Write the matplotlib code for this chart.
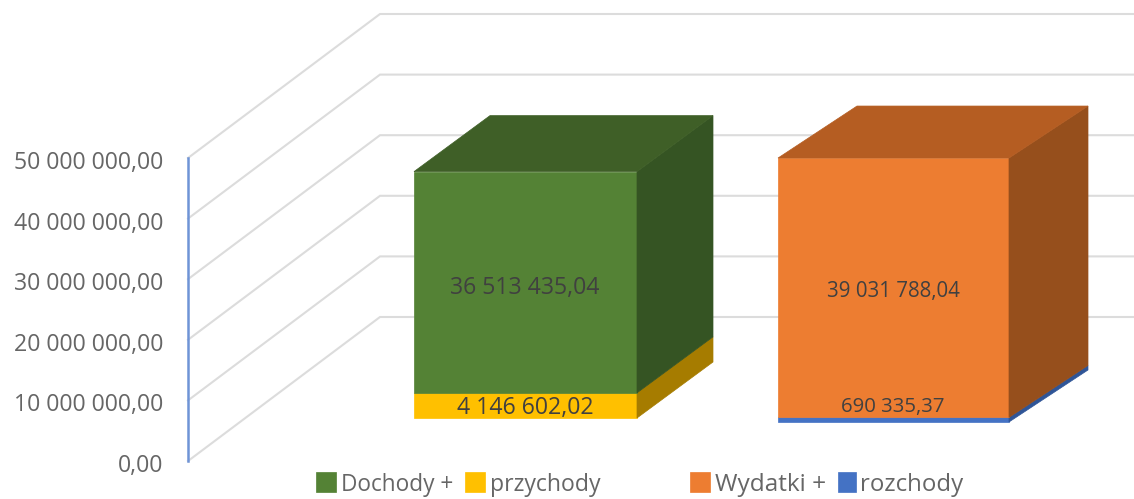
import matplotlib
matplotlib.use("Agg")
import matplotlib.pyplot as plt

# Values
tick_values = [0, 10000000, 20000000, 30000000, 40000000, 50000000]
tick_labels = ["0,00", "10 000 000,00", "20 000 000,00", "30 000 000,00",
               "40 000 000,00", "50 000 000,00"]
dochody = 36513435.04
przychody = 4146602.02
wydatki = 39031788.04
rozchody = 690335.37

# Pixel layout of the fake 3D box
W, H = 1134, 499
AXIS_X = 188
ZERO_Y = 461
PX_PER_UNIT = 303 / 50000000
GRID_DX, GRID_DY = 192, 144

plt.rcParams["font.family"] = ["Open Sans", "DejaVu Sans"]

fig = plt.figure(figsize=(W / 100, H / 100), dpi=100)
ax = fig.add_axes([0, 0, 1, 1])
ax.set_xlim(0, W)
ax.set_ylim((ZERO_Y - H) / PX_PER_UNIT, ZERO_Y / PX_PER_UNIT)
ax.axis("off")


def py(pixels):
    # pixel distance to value units
    return pixels / PX_PER_UNIT


def face(xs, ys, color):
    ax.fill(xs, ys, color=color, lw=0.5, zorder=2)


def box(x0, x1, base, height, dx, dy, front, top, side):
    # base and height are in value units, dx and dy are the depth in pixels
    y0 = base
    y1 = base + height
    d = py(dy)
    face([x0, x1, x1, x0], [y0, y0, y1, y1], front)
    face([x1, x1 + dx, x1 + dx, x1], [y0, y0 + d, y1 + d, y1], side)
    if top:
        face([x0, x1, x1 + dx, x0 + dx], [y1, y1, y1 + d, y1 + d], top)


# gridlines on the floor and back wall, behind the boxes
for v in tick_values:
    ax.plot([AXIS_X, AXIS_X + GRID_DX, W], [v, v + py(GRID_DY), v + py(GRID_DY)],
            color="#dcdcdc", lw=1.5, solid_joinstyle="miter", zorder=1)

ax.plot([AXIS_X, AXIS_X], [tick_values[0], tick_values[-1]], color="#6f94d6", lw=1.8, zorder=1)

for v, label in zip(tick_values, tick_labels):
    ax.text(163, v - py(5), label, ha="right", va="center", fontsize=16.7, color="#666666")

# left stack
base_left = py(ZERO_Y - 418)
box(414, 637, base_left, przychody, 76, 56, "#ffc000", None, "#a67c00")
box(414, 637, base_left + przychody, dochody, 76, 56, "#548235", "#3f5f27", "#355423")

# right stack is drawn a bit taller in the original picture
stretch = 1.0966
base_right = py(ZERO_Y - 422)
box(778, 1009, base_right, rozchody * stretch, 79, 52, "#4472c4", None, "#2f5597")
box(778, 1009, base_right + rozchody * stretch, wydatki * stretch, 79, 52,
    "#ed7d31", "#b55d22", "#964f1c")

# data labels
ax.text(525, py(ZERO_Y - 288), "36 513 435,04", ha="center", va="center",
        fontsize=16.7, color="#404040")
ax.text(525, py(ZERO_Y - 408), "4 146 602,02", ha="center", va="center",
        fontsize=16.7, color="#404040")
ax.text(893, py(ZERO_Y - 291), "39 031 788,04", ha="center", va="center",
        fontsize=14.8, color="#404040")
ax.text(893, py(ZERO_Y - 407), "690 335,37", ha="center", va="center",
        fontsize=14.7, color="#404040")

# legend, placed by hand because the original has separate pieces
legend_items = [(316, 20, "#548235", 341, "Dochody +", 16.3),
                (465, 20, "#ffc000", 490, "przychody", 16.6),
                (690, 20, "#ed7d31", 715, "Wydatki +", 17.6),
                (838, 18, "#4472c4", 860, "rozchody", 17.3)]
for x, w, color, text_x, label, size in legend_items:
    face([x, x + w, x + w, x], [py(ZERO_Y - 492), py(ZERO_Y - 492), py(ZERO_Y - 472), py(ZERO_Y - 472)], color)
    ax.text(text_x, py(ZERO_Y - 485), label, ha="left", va="center", fontsize=size, color="#666666")

fig.savefig("out.png", dpi=100)
